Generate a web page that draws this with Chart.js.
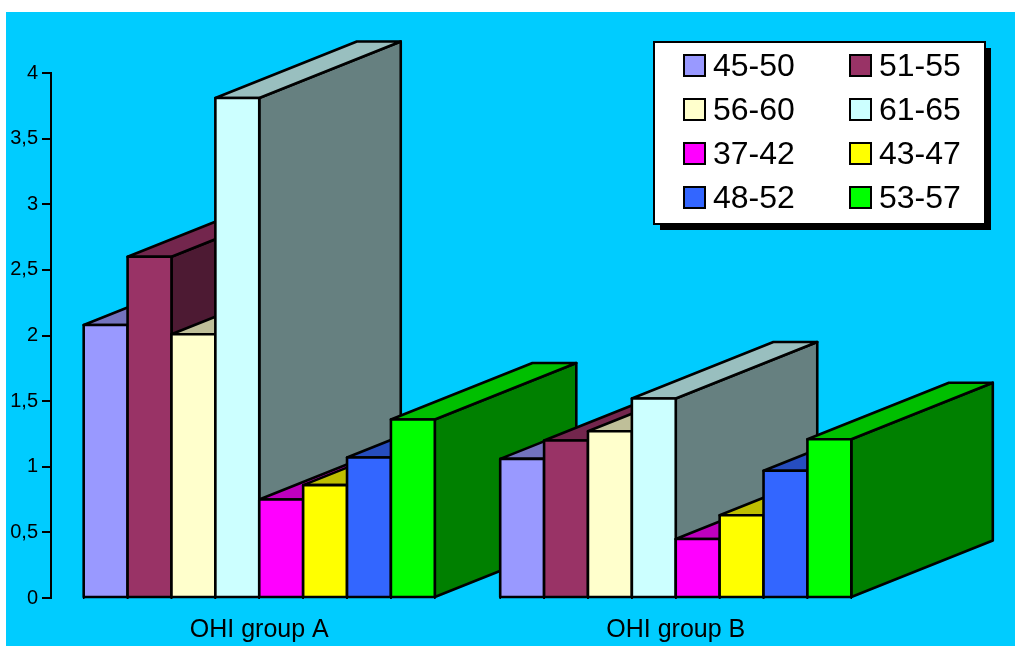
<!DOCTYPE html>
<html>
<head>
<meta charset="utf-8">
<style>
  html, body { margin: 0; padding: 0; background: #fff; overflow: hidden; }
  #ohiChart { position: absolute; left: 6px; top: 12px; background: #00ccff; }
</style>
<script src="https://cdn.jsdelivr.net/npm/chart.js@4"></script>
</head>
<body>
<canvas id="ohiChart" width="1009" height="634"></canvas>
<script>
const categories = ["OHI group A", "OHI group B"];
const ageGroups = ["45-50", "51-55", "56-60", "61-65", "37-42", "43-47", "48-52", "53-57"];
const groupA = [2.08, 2.6, 2.01, 3.81, 0.75, 0.86, 1.07, 1.36];
const groupB = [1.06, 1.2, 1.27, 1.52, 0.45, 0.63, 0.97, 1.21];
const yTicks = [0, 0.5, 1, 1.5, 2, 2.5, 3, 3.5, 4];

// front face colours as [r, g, b], top and side are darker versions
const faceColors = [
  [153, 153, 255],
  [153, 51, 102],
  [255, 255, 204],
  [204, 255, 255],
  [255, 0, 255],
  [255, 255, 0],
  [51, 102, 255],
  [0, 255, 0]
];

const FONT = '"Liberation Sans", Arial, sans-serif';
const DEPTH_X = 141.5;
const DEPTH_Y = 56.5;

function shade(rgb, factor) {
  return `rgb(${rgb.map(c => Math.round(c * factor)).join(",")})`;
}

function fillPolygon(ctx, points, color) {
  ctx.beginPath();
  points.forEach((p, i) => (i ? ctx.lineTo(p[0], p[1]) : ctx.moveTo(p[0], p[1])));
  ctx.closePath();
  ctx.fillStyle = color;
  ctx.fill();
  ctx.stroke();
}

// bars overlap in depth, so paint them left to right across both groups
const extrudedBars = {
  id: "extrudedBars",
  beforeDatasetsDraw(chart) {
    const ctx = chart.ctx;
    ctx.save();
    ctx.strokeStyle = "#000";
    ctx.lineWidth = 2.6;
    ctx.lineJoin = "round";
    categories.forEach((_, c) => {
      ageGroups.forEach((_, d) => {
        const bar = chart.getDatasetMeta(d).data[c];
        const { x, y, base, width } = bar.getProps(["x", "y", "base", "width"], true);
        const left = x - width / 2;
        const right = x + width / 2;
        fillPolygon(ctx, [
          [right, y],
          [right + DEPTH_X, y - DEPTH_Y],
          [right + DEPTH_X, base - DEPTH_Y],
          [right, base]
        ], shade(faceColors[d], 0.5));
        fillPolygon(ctx, [
          [left, y],
          [left + DEPTH_X, y - DEPTH_Y],
          [right + DEPTH_X, y - DEPTH_Y],
          [right, y]
        ], shade(faceColors[d], 0.75));
        bar.draw(ctx);
        ctx.strokeRect(left, y, width, base - y);
        // short nubs under the baseline at each bar edge
        ctx.lineWidth = 1.5;
        ctx.beginPath();
        ctx.moveTo(left, base);
        ctx.lineTo(left, base + 2);
        ctx.moveTo(right, base);
        ctx.lineTo(right, base + 2);
        ctx.stroke();
        ctx.lineWidth = 2.6;
      });
    });
    ctx.restore();
    return false;
  }
};

// two column legend box with a hard drop shadow
const legendBox = {
  id: "legendBox",
  afterDraw(chart) {
    const ctx = chart.ctx;
    const boxX = 648, boxY = 30, boxW = 331, boxH = 182;
    ctx.save();
    ctx.fillStyle = "#000";
    ctx.fillRect(boxX + 6, boxY + 6, boxW, boxH);
    ctx.fillStyle = "#fff";
    ctx.strokeStyle = "#000";
    ctx.lineWidth = 2;
    ctx.fillRect(boxX, boxY, boxW, boxH);
    ctx.strokeRect(boxX, boxY, boxW, boxH);
    ctx.font = `32px ${FONT}`;
    ctx.textBaseline = "middle";
    ctx.textAlign = "left";
    ageGroups.forEach((label, i) => {
      const col = i % 2;
      const row = Math.floor(i / 2);
      const sx = 678 + col * 166;
      const sy = 43 + row * 44;
      ctx.fillStyle = shade(faceColors[i], 1);
      ctx.fillRect(sx, sy, 21, 21);
      ctx.strokeRect(sx, sy, 21, 21);
      ctx.fillStyle = "#000";
      ctx.fillText(label, sx + 29, sy + 12);
    });
    ctx.restore();
  }
};

new Chart(document.getElementById("ohiChart"), {
  type: "bar",
  data: {
    labels: categories,
    datasets: ageGroups.map((label, i) => ({
      label,
      data: [groupA[i], groupB[i]],
      backgroundColor: shade(faceColors[i], 1),
      borderWidth: 0,
      categoryPercentage: 0.843,
      barPercentage: 1
    }))
  },
  options: {
    responsive: false,
    animation: false,
    layout: { padding: { top: 61, right: 131, bottom: 0, left: 0 } },
    plugins: {
      legend: { display: false },
      tooltip: { enabled: false }
    },
    scales: {
      x: {
        grid: { display: false },
        border: { display: false },
        ticks: { color: "#000", padding: 9, font: { family: FONT, size: 25 }, maxRotation: 0 },
        afterFit(scale) { scale.height = 48; }
      },
      y: {
        min: 0,
        max: 4,
        afterBuildTicks(scale) { scale.ticks = yTicks.map(value => ({ value })); },
        grid: { drawOnChartArea: false, color: "#000", lineWidth: 2, tickLength: 9 },
        border: { color: "#000", width: 2 },
        ticks: {
          color: "#000",
          padding: 4,
          font: { family: FONT, size: 20 },
          callback: value => String(value).replace(".", ",")
        },
        afterFit(scale) { scale.width = 45; }
      }
    }
  },
  plugins: [extrudedBars, legendBox]
});
</script>
</body>
</html>
